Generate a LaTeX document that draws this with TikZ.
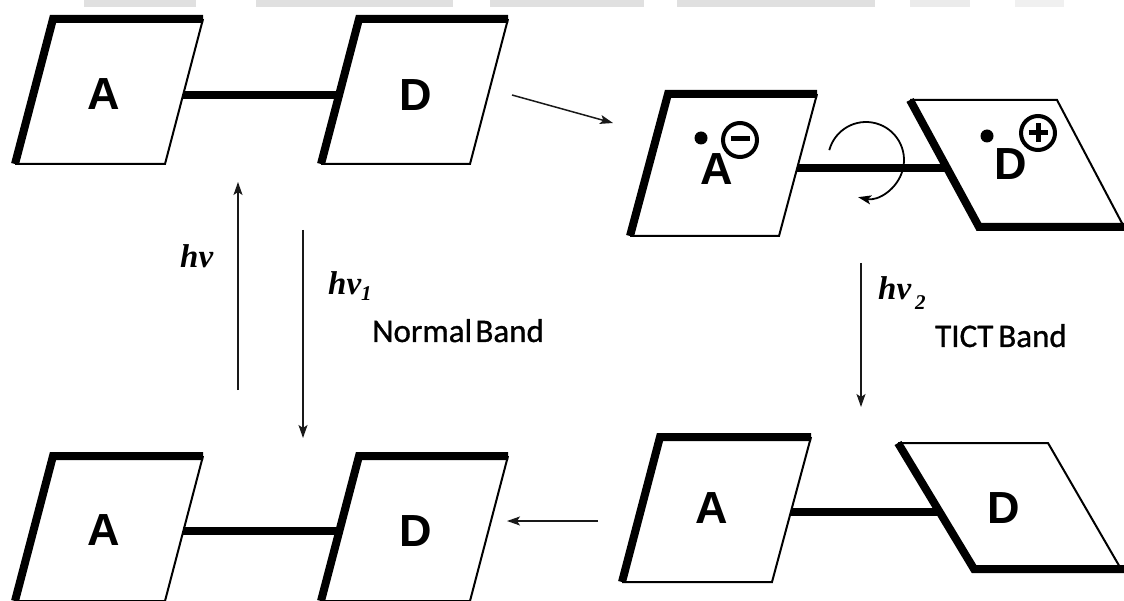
\documentclass[tikz,border=0pt]{standalone}
\usepackage{fontspec}
\usetikzlibrary{arrows.meta}
\newfontfamily\letterfont{Liberation Sans}
\newfontfamily\bandfont{Carlito}[FakeBold=0.9]
\newfontfamily\nufont{Liberation Serif}

\tikzset{
  heavy/.style={line width=8pt, line join=miter, line cap=butt},
  light/.style={line width=2pt, line join=miter},
  bond/.style={line width=8pt},
  conn/.style={line width=1.5pt, draw=black!90, -{Stealth[length=13pt,width=9pt,inset=3pt]}},
  letter/.style={font=\letterfont\bfseries\fontsize{45}{45}\selectfont, inner sep=0pt},
  nu/.style={font=\nufont\bfseries\itshape\fontsize{33}{33}\selectfont, inner sep=0pt, anchor=base west},
  band/.style={font=\bandfont\fontsize{33}{33}\selectfont, inner sep=0pt, anchor=base west},
  chg/.style={line width=4pt},
  chgbar/.style={line width=5pt},
}

\begin{document}
\begin{tikzpicture}[x=1pt,y=-1pt]
\useasboundingbox (0,0) rectangle (1124,601);
\fill[white] (0,0) rectangle (1124,601);

% faint grey strip along the top
\fill[black!12] (84,0) rectangle (196,7);
\fill[black!12] (256,0) rectangle (453,7);
\fill[black!12] (490,0) rectangle (644,7);
\fill[black!12] (677,0) rectangle (875,7);
\fill[black!8] (910,0) rectangle (970,7);
\fill[black!6] (1015,0) rectangle (1064,7);

% ---------- planar ground state (top left) ----------
\draw[light] (203,19) -- (165,164) -- (15,164);
\draw[heavy] (15,164) -- (53,19) -- (203,19);
\draw[light] (508,19) -- (470,164) -- (321,164);
\draw[heavy] (321,164) -- (359,19) -- (508,19);
\coordinate (b1a) at (183,95);
\coordinate (b1d) at (339,95);
\draw[bond] (b1a) -- (b1d);
\node[letter] (A1) at (104,94) {A};
\node[letter] (D1) at (416,95) {D};

% ---------- twisted charge-transfer state (top right) ----------
\draw[light] (817,94) -- (779,236) -- (630,236);
\draw[heavy] (630,236) -- (668,94) -- (817,94);
\draw[light] (910,100) -- (1057,100) -- (1124,227);
\draw[heavy] (910,100) -- (979,227) -- (1126,227);
\coordinate (b2a) at (797,168);
\coordinate (b2d) at (945,168);
\draw[bond] (b2a) -- (b2d);
\node[letter] (A2) at (717,169) {A};
\node[letter] (D2) at (1011,164) {D};
% radical dots and charges
\fill (701,138) circle[radius=6.5pt];
\draw[chg] (740,140) circle[radius=17pt];
\draw[chgbar] (730.5,139) -- (749.5,139);
\fill (987,136) circle[radius=6.5pt];
\draw[chg] (1038,133) circle[radius=17pt];
\draw[chgbar] (1028.5,133) -- (1047.5,133);
\draw[chgbar] (1038,123.5) -- (1038,142.5);
% rotation about the bond
\coordinate (rc) at (866,160);
\draw[conn, draw=black, line width=1.8pt] ([shift={(165:38pt)}]rc) arc[start angle=165, end angle=-102, radius=38pt];

% ---------- twisted ground state (bottom right) ----------
\draw[light] (811,437) -- (772,582) -- (622,582);
\draw[heavy] (622,582) -- (660,437) -- (811,437);
\draw[light] (898,443) -- (1048,443) -- (1121,569);
\draw[heavy] (898,443) -- (974,569) -- (1124,569);
\coordinate (b4a) at (791,512);
\coordinate (b4d) at (940,512);
\draw[bond] (b4a) -- (b4d);
\node[letter] (A4) at (712,508) {A};
\node[letter] (D4) at (1004,508) {D};

% ---------- planar ground state (bottom left) ----------
\draw[light] (203,456) -- (165,601) -- (15,601);
\draw[heavy] (15,601) -- (53,456) -- (203,456);
\draw[light] (508,456) -- (470,601) -- (321,601);
\draw[heavy] (321,601) -- (359,456) -- (508,456);
\coordinate (b3a) at (183,531);
\coordinate (b3d) at (339,531);
\draw[bond] (b3a) -- (b3d);
\node[letter] (A3) at (104,530) {A};
\node[letter] (D3) at (416,531) {D};

% ---------- transitions ----------
\coordinate (t1s) at (512,95);
\coordinate (t1e) at (613,123);
\draw[conn] (t1s) -- (t1e);

\coordinate (absS) at (238,390);
\coordinate (absE) at (238,182);
\draw[conn] (absS) -- (absE);

\coordinate (em1S) at (303,230);
\coordinate (em1E) at (303,438);
\draw[conn] (em1S) -- (em1E);

\coordinate (em2S) at (861,263);
\coordinate (em2E) at (861,407);
\draw[conn] (em2S) -- (em2E);

\coordinate (relS) at (598,521);
\coordinate (relE) at (507,521);
\draw[conn] (relS) -- (relE);

% ---------- labels ----------
\node[nu] (hv) at (180,268) {hν};
\node[nu] (hv1) at (328,295) {hν\raisebox{-6pt}{\fontsize{21}{21}\selectfont 1}};
\node[band] (nb) at (372,342) {Normal\hspace{0.1em}Band};
\node[nu] (hv2) at (878,300) {hν\hspace{4pt}\raisebox{-10pt}{\fontsize{21}{21}\selectfont 2}};
\node[band] (tb) at (935,347) {TICT\hspace{0.15em}Band};
\end{tikzpicture}
\end{document}
